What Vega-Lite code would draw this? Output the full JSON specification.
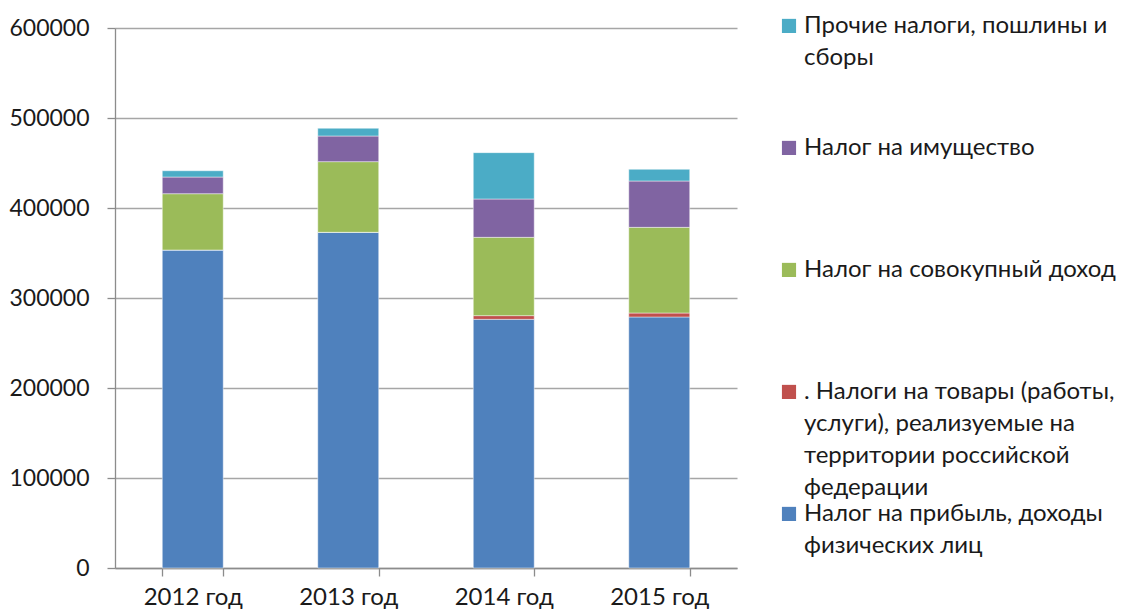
{
  "$schema": "https://vega.github.io/schema/vega-lite/v6.json",
  "autosize": {"type": "none"},
  "width": 622,
  "height": 540,
  "padding": {"left": 115, "top": 28, "right": 385, "bottom": 47},
  "background": "white",
  "data": {
    "values": [
      {"year": "2012 год", "series": "Налог на прибыль, доходы физических лиц", "k": 1, "value": 353300},
      {"year": "2012 год", "series": ". Налоги на товары (работы, услуги), реализуемые  на территории российской федерации", "k": 2, "value": 0},
      {"year": "2012 год", "series": "Налог на совокупный доход", "k": 3, "value": 62600},
      {"year": "2012 год", "series": "Налог на имущество", "k": 4, "value": 18500},
      {"year": "2012 год", "series": "Прочие налоги, пошлины и сборы", "k": 5, "value": 7000},
      {"year": "2013 год", "series": "Налог на прибыль, доходы физических лиц", "k": 1, "value": 373000},
      {"year": "2013 год", "series": ". Налоги на товары (работы, услуги), реализуемые  на территории российской федерации", "k": 2, "value": 0},
      {"year": "2013 год", "series": "Налог на совокупный доход", "k": 3, "value": 78500},
      {"year": "2013 год", "series": "Налог на имущество", "k": 4, "value": 28500},
      {"year": "2013 год", "series": "Прочие налоги, пошлины и сборы", "k": 5, "value": 8600},
      {"year": "2014 год", "series": "Налог на прибыль, доходы физических лиц", "k": 1, "value": 276300},
      {"year": "2014 год", "series": ". Налоги на товары (работы, услуги), реализуемые  на территории российской федерации", "k": 2, "value": 4100},
      {"year": "2014 год", "series": "Налог на совокупный доход", "k": 3, "value": 87000},
      {"year": "2014 год", "series": "Налог на имущество", "k": 4, "value": 42600},
      {"year": "2014 год", "series": "Прочие налоги, пошлины и сборы", "k": 5, "value": 51500},
      {"year": "2015 год", "series": "Налог на прибыль, доходы физических лиц", "k": 1, "value": 278900},
      {"year": "2015 год", "series": ". Налоги на товары (работы, услуги), реализуемые  на территории российской федерации", "k": 2, "value": 4400},
      {"year": "2015 год", "series": "Налог на совокупный доход", "k": 3, "value": 95200},
      {"year": "2015 год", "series": "Налог на имущество", "k": 4, "value": 51500},
      {"year": "2015 год", "series": "Прочие налоги, пошлины и сборы", "k": 5, "value": 13000}
    ]
  },
  "mark": {"type": "bar", "stroke": "#ffffff", "strokeWidth": 1, "strokeOpacity": 0.45},
  "encoding": {
    "x": {
      "field": "year",
      "type": "nominal",
      "sort": null,
      "scale": {"paddingInner": 0.608, "paddingOuter": 0.304},
      "axis": {
        "title": null,
        "labelAngle": 0,
        "tickBand": "extent",
        "tickSize": 8,
        "tickColor": "#8c8c8c",
        "tickWidth": 1.3,
        "domainColor": "#8c8c8c",
        "domainWidth": 1.3,
        "labelFont": "Lato",
        "labelFontSize": 24,
        "labelColor": "#1a1a1a",
        "labelPadding": 9,
        "grid": false
      }
    },
    "y": {
      "field": "value",
      "type": "quantitative",
      "stack": "zero",
      "scale": {"domain": [0, 600000], "nice": false},
      "axis": {
        "title": null,
        "values": [0, 100000, 200000, 300000, 400000, 500000, 600000],
        "format": "d",
        "tickSize": 8,
        "tickColor": "#8c8c8c",
        "tickWidth": 1.3,
        "domainColor": "#8c8c8c",
        "domainWidth": 1.3,
        "gridColor": "#a6a6a6",
        "gridWidth": 1.5,
        "labelFont": "Lato",
        "labelFontSize": 23,
        "labelColor": "#1a1a1a",
        "labelPadding": 18
      }
    },
    "order": {"field": "k", "type": "quantitative", "sort": "ascending"},
    "color": {
      "field": "series",
      "type": "nominal",
      "scale": {
        "domain": [
          "Прочие налоги, пошлины и сборы",
          "Налог на имущество",
          "Налог на совокупный доход",
          ". Налоги на товары (работы, услуги), реализуемые  на территории российской федерации",
          "Налог на прибыль, доходы физических лиц"
        ],
        "range": ["#4bacc6", "#8064a2", "#9bbb59", "#c0504d", "#4f81bd"]
      },
      "legend": {
        "title": null,
        "orient": "none",
        "legendX": 662,
        "legendY": -7,
        "padding": 0,
        "symbolType": "M -1 -2 L 1 -2 L 1 0 L -1 0 Z",
        "symbolSize": 200,
        "symbolStrokeWidth": 0,
        "labelFont": "Lato",
        "labelFontSize": 24,
        "labelColor": "#1a1a1a",
        "labelLimit": 0,
        "labelOffset": 3,
        "labelBaseline": "alphabetic",
        "gridAlign": "all",
        "rowPadding": 2,
        "labelExpr": "datum.label == 'Прочие налоги, пошлины и сборы' ? ['Прочие налоги, пошлины и', 'сборы', ' ', ' '] : datum.label == 'Налог на прибыль, доходы физических лиц' ? ['Налог на прибыль, доходы', 'физических лиц', ' ', ' '] : indexof(datum.label, 'Налоги на товары') >= 0 ? ['. Налоги на товары (работы,', 'услуги), реализуемые  на', 'территории российской', 'федерации'] : [datum.label, ' ', ' ', ' ']"
      }
    }
  },
  "config": {
    "view": {"stroke": null},
    "style": {"guide-label": {"lineHeight": 32}}
  }
}
